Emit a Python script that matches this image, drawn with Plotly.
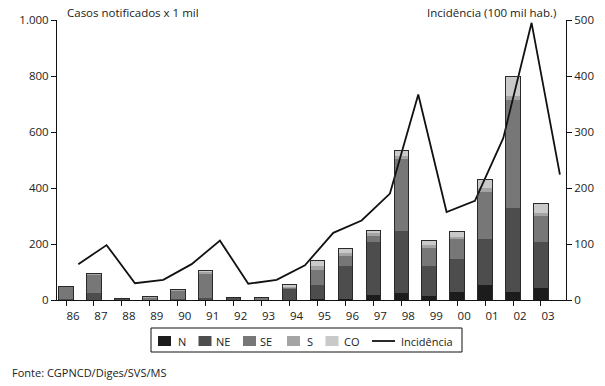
import plotly.graph_objects as go

years = ['86', '87', '88', '89', '90', '91', '92', '93', '94', '95', '96', '97', '98', '99', '00', '01', '02', '03']
N  = [0, 0, 0, 0, 2, 3, 0, 0, 0, 2, 2, 18, 26, 14, 30, 54, 30, 42]
NE = [3, 25, 5, 3, 3, 5, 8, 0, 40, 53, 119, 188, 220, 108, 117, 163, 298, 164]
SE = [45, 65, 2, 7, 28, 88, 0, 8, 4, 52, 37, 24, 256, 65, 70, 170, 387, 95]
S  = [2, 3, 0, 2, 5, 5, 0, 2, 4, 15, 10, 8, 12, 10, 8, 12, 15, 10]
CO = [0, 0, 0, 0, 0, 5, 0, 0, 8, 20, 15, 11, 20, 15, 18, 30, 70, 35]
incidencia = [64, 98, 30, 36, 64, 106, 29, 36, 62, 120, 142, 190, 367, 157, 177, 289, 495, 224]

series = [('N', N, '#1c1c1c'), ('NE', NE, '#4d4d4d'), ('SE', SE, '#777777'),
          ('S', S, '#a4a4a4'), ('CO', CO, '#c9c9c9')]
totals = [sum(v) for v in zip(N, NE, SE, S, CO)]

FONT = 'Open Sans'
TXT = '#222222'

# plot-area geometry in pixels (for placing the hand-made legend)
L, R, T, B = 57, 566, 20, 300
def px(x):
    return (x - L) / (R - L)
def py(y):
    return (B - y) / (B - T)

fig = go.Figure()
for name, vals, col in series:
    fig.add_trace(go.Bar(x=years, y=vals, name=name, marker=dict(color=col, line=dict(width=0)),
                         xaxis='x', yaxis='y', showlegend=False))
# outline of the whole stacked bar
fig.add_trace(go.Bar(x=years, y=totals, showlegend=False, hoverinfo='skip',
                     marker=dict(color='rgba(0,0,0,0)', line=dict(color='#2a2a2a', width=1)),
                     xaxis='x3', yaxis='y'))
fig.add_trace(go.Scatter(x=years, y=incidencia, name='Incidência', mode='lines',
                         line=dict(color='#111111', width=1.8), xaxis='x2', yaxis='y2',
                         showlegend=False))

axis_common = dict(showline=True, linecolor='#111111', linewidth=1, ticks='outside',
                   ticklen=5, tickcolor='#111111', showgrid=False, zeroline=False,
                   tickfont=dict(family=FONT, size=11.5, color=TXT))

# legend (box, swatches, texts)
shapes = [dict(type='rect', xref='paper', yref='paper', x0=px(151), x1=px(462), y0=py(328), y1=py(352),
               line=dict(color='#111111', width=1), fillcolor='rgba(0,0,0,0)')]
annotations = []
sw_left = [158, 198.5, 243, 287, 325.5]
txt_left = [175.5, 214, 258, 305, 341.5]
ymid = 341
for (name, _, col), sx, tx in zip(series, sw_left, txt_left):
    shapes.append(dict(type='rect', xref='paper', yref='paper', x0=px(sx), x1=px(sx + 13),
                       y0=py(ymid + 5), y1=py(ymid - 5), line=dict(width=0), fillcolor=col))
    annotations.append(dict(text=name, xref='paper', yref='paper', x=px(tx), y=py(ymid),
                            xanchor='left', yanchor='middle', showarrow=False,
                            font=dict(family=FONT, size=11, color=TXT)))
shapes.append(dict(type='line', xref='paper', yref='paper', x0=px(372), x1=px(395),
                   y0=py(ymid), y1=py(ymid), line=dict(color='#111111', width=1.8)))
annotations.append(dict(text='Incidência', xref='paper', yref='paper', x=px(399), y=py(ymid),
                        xanchor='left', yanchor='middle', showarrow=False,
                        font=dict(family=FONT, size=11, color=TXT)))

annotations += [
    dict(text='Casos notificados x 1 mil', xref='paper', yref='paper', x=px(65), y=py(12),
         xanchor='left', yanchor='middle', showarrow=False,
         font=dict(family=FONT, size=11.5, color=TXT)),
    dict(text='Incidência (100 mil hab.)', xref='paper', yref='paper', x=px(558), y=py(12),
         xanchor='right', yanchor='middle', showarrow=False,
         font=dict(family=FONT, size=11.5, color=TXT)),
    dict(text='Fonte: CGPNCD/Diges/SVS/MS', xref='paper', yref='paper', x=px(10), y=py(372),
         xanchor='left', yanchor='middle', showarrow=False,
         font=dict(family=FONT, size=11, color=TXT)),
]

fig.update_layout(
    width=605, height=386, autosize=False,
    margin=dict(l=L, r=605 - R, t=T, b=386 - B),
    paper_bgcolor='white', plot_bgcolor='white',
    barmode='stack', bargap=0.48,
    separators=',.',
    showlegend=False,
    font=dict(family=FONT, size=11, color=TXT),
    xaxis=dict(type='category', categoryorder='array', categoryarray=years,
               range=[-0.322, 17.895], ticklabelshift=7, **axis_common),
    xaxis2=dict(type='category', categoryorder='array', categoryarray=years,
                range=[-0.752, 17.215], overlaying='x', visible=False, anchor='y2'),
    xaxis3=dict(type='category', categoryorder='array', categoryarray=years,
                range=[-0.322, 17.895], overlaying='x', visible=False, anchor='y'),
    yaxis=dict(range=[0, 1000], tickvals=[0, 200, 400, 600, 800, 1000], tickformat=',',
               **axis_common),
    yaxis2=dict(range=[0, 500], tickvals=[0, 100, 200, 300, 400, 500], overlaying='y',
                side='right', anchor='x', **axis_common),
    shapes=shapes,
    annotations=annotations,
)

fig.write_html('out.html', config={'displayModeBar': False},
               post_script="document.body.style.margin='0';")
